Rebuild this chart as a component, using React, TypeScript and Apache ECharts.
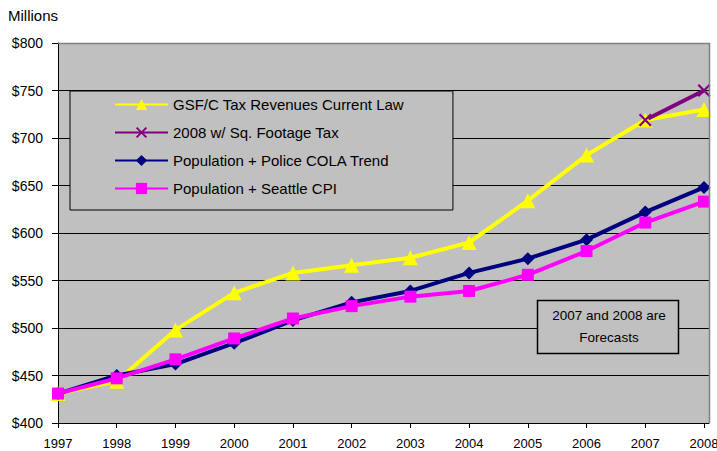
import React, { useEffect, useRef } from "react";
import * as echarts from "echarts";

const years = [1997, 1998, 1999, 2000, 2001, 2002, 2003, 2004, 2005, 2006, 2007, 2008];
const gsfCurrentLaw = [431, 444, 498, 537, 558, 566, 574, 590, 634, 682, 719, 730];
const sqFootageTax = [null, null, null, null, null, null, null, null, null, null, 719, 750];
const policeCola = [431, 450, 462, 484, 508, 527, 539, 558, 573, 593, 622, 648];
const seattleCpi = [431, 447, 467, 489, 510, 523, 533, 539, 556, 581, 611, 633];
const yTicks = [400, 450, 500, 550, 600, 650, 700, 750, 800];

const FONT = "Liberation Sans, Arial, sans-serif";
const CROSS = "path://M0,1.2 L1.2,0 L10,8.8 L8.8,10 Z M8.8,0 L10,1.2 L1.2,10 L0,8.8 Z";

function pairs(vals: (number | null)[]) {
  return years.map((y, i) => [y, vals[i]]);
}

export default function App() {
  const ref = useRef<HTMLDivElement>(null);
  useEffect(() => {
    if (!ref.current) return;
    const chart = echarts.init(ref.current, undefined, { renderer: "svg" });
    const L = 58, R = 709, T = 43, B = 423;
    chart.setOption({
      animation: false,
      backgroundColor: "#ffffff",
      textStyle: { fontFamily: FONT },
      grid: {
        left: L,
        right: 717 - R,
        top: T,
        bottom: 451 - B,
        containLabel: false,
        outerBoundsMode: "none",
      },
      xAxis: {
        type: "value",
        min: 1997,
        max: 2008.085,
        splitLine: { show: false },
        axisLine: { show: true, lineStyle: { color: "#000", width: 1 } },
        axisTick: { show: true, length: 5, lineStyle: { color: "#000" }, customValues: years },
        axisLabel: {
          customValues: years,
          color: "#000",
          fontSize: 13,
          fontFamily: FONT,
          margin: 14,
          hideOverlap: false,
          formatter: (v: number) => String(v),
        },
      },
      yAxis: {
        type: "value",
        min: 400,
        max: 800,
        interval: 50,
        axisLine: { show: true, lineStyle: { color: "#000", width: 1 } },
        axisTick: { show: true, length: 6, inside: false, lineStyle: { color: "#000" } },
        splitLine: { show: true, lineStyle: { color: "#000", width: 1 } },
        axisLabel: {
          color: "#000",
          fontSize: 14,
          fontFamily: FONT,
          margin: 15,
          formatter: (v: number) => (yTicks.includes(v) ? "$" + v : ""),
        },
      },
      legend: {
        orient: "vertical",
        left: 70,
        top: 91,
        padding: [6, 49, 14, 44],
        itemGap: 13,
        itemWidth: 53,
        itemHeight: 14,
        backgroundColor: "#c0c0c0",
        borderColor: "#000",
        borderWidth: 1,
        textStyle: { fontSize: 15, fontFamily: FONT, color: "#000" },
        data: [
          "GSF/C Tax Revenues Current Law",
          "2008 w/ Sq. Footage Tax",
          "Population + Police COLA Trend",
          "Population + Seattle CPI",
        ],
      },
      graphic: [
        {
          type: "rect",
          z: -100,
          silent: true,
          shape: { x: L, y: T, width: R - L, height: B - T },
          style: { fill: "#c0c0c0" },
        },
        {
          type: "polyline",
          z: 100,
          silent: true,
          shape: { points: [[L, T + 0.5], [R + 0.5, T + 0.5], [R + 0.5, B]] },
          style: { stroke: "#808080", lineWidth: 1.5, fill: "none" },
        },
        {
          type: "text",
          left: 8,
          top: 8,
          style: { text: "Millions", fontSize: 15, fontFamily: FONT, fill: "#000" },
        },
        {
          type: "rect",
          z: 100,
          shape: { x: 537.5, y: 300.5, width: 141, height: 53 },
          style: { fill: "#c0c0c0", stroke: "#000", lineWidth: 1.5 },
        },
        {
          type: "text",
          z: 101,
          x: 609,
          y: 304,
          style: {
            text: "2007 and 2008 are\nForecasts",
            fontSize: 13.5,
            fontFamily: FONT,
            fill: "#000",
            align: "center",
            verticalAlign: "top",
            lineHeight: 22,
          },
        },
      ],
      series: [
        {
          name: "GSF/C Tax Revenues Current Law",
          type: "line",
          data: pairs(gsfCurrentLaw),
          symbol: "triangle",
          symbolSize: 15,
          lineStyle: { color: "#ffff00", width: 4 },
          itemStyle: { color: "#ffff00" },
        },
        {
          name: "2008 w/ Sq. Footage Tax",
          type: "line",
          data: pairs(sqFootageTax),
          symbol: CROSS,
          symbolSize: 13,
          lineStyle: { color: "#800080", width: 4 },
          itemStyle: { color: "#800080" },
        },
        {
          name: "Population + Police COLA Trend",
          type: "line",
          data: pairs(policeCola),
          symbol: "diamond",
          symbolSize: 13,
          lineStyle: { color: "#000080", width: 4 },
          itemStyle: { color: "#000080" },
        },
        {
          name: "Population + Seattle CPI",
          type: "line",
          data: pairs(seattleCpi),
          symbol: "rect",
          symbolSize: 12,
          lineStyle: { color: "#ff00ff", width: 4 },
          itemStyle: { color: "#ff00ff" },
        },
      ],
    });
    return () => chart.dispose();
  }, []);
  return (
    <div
      ref={ref}
      style={{ position: "fixed", left: 0, top: 0, width: 717, height: 451 }}
    />
  );
}
